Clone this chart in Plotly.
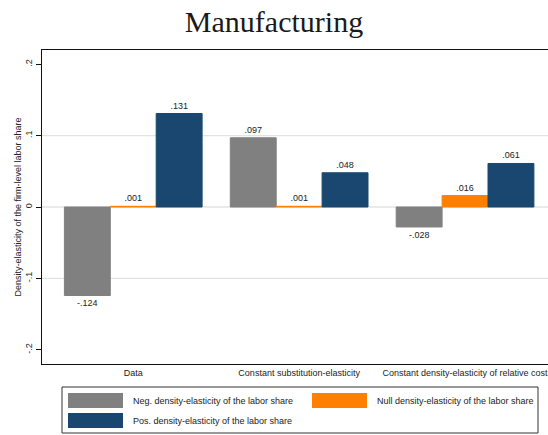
import plotly.graph_objects as go

categories = ["Data", "Constant substitution-elasticity", "Constant density-elasticity of relative cost"]
series_names = ["Neg. density-elasticity of the labor share",
                "Null density-elasticity of the labor share",
                "Pos. density-elasticity of the labor share"]
neg_vals = [-0.124, 0.097, -0.028]
null_vals = [0.001, 0.001, 0.016]
pos_vals = [0.131, 0.048, 0.061]
colors = ["#808080", "#ff8000", "#1a476f"]
ytick_vals = [-0.2, -0.1, 0, 0.1, 0.2]
ytick_text = ["-.2", "-.1", "0", ".1", ".2"]
grid_vals = [-0.1, 0, 0.1]

W, H = 548, 435
L, R, T, B = 42, 0, 50, 71
PW = W - L - R
PH = H - T - B


def fmt(v):
    s = f"{v:.3f}"
    return s.replace("0.", ".", 1)


def px(x):
    return (x - L) / PW


def py(y):
    return (H - B - y) / PH


fig = go.Figure()
xs = list(range(len(categories)))
for name, vals, col in zip(series_names, [neg_vals, null_vals, pos_vals], colors):
    fig.add_trace(go.Bar(
        x=xs, y=vals, name=name,
        marker=dict(color=col, line=dict(color=col, width=1)),
        text=[fmt(v) for v in vals], textposition="outside",
        textfont=dict(family="Liberation Sans, Arial", size=9, color="#222222"),
        cliponaxis=False, showlegend=False,
    ))

shapes = []
for g in grid_vals:
    shapes.append(dict(type="line", xref="paper", yref="y", x0=0, x1=1, y0=g, y1=g,
                       line=dict(color="#e3e3e3", width=1.3), layer="below"))

# manual legend
shapes.append(dict(type="rect", xref="paper", yref="paper",
                   x0=px(62), x1=px(538), y0=py(387), y1=py(433),
                   line=dict(color="#333333", width=1), fillcolor="white"))
legend_pos = [(68, 393), (312, 393), (68, 413)]
annotations = []
for (lx, ly), name, col in zip(legend_pos, series_names, colors):
    shapes.append(dict(type="rect", xref="paper", yref="paper",
                       x0=px(lx), x1=px(lx + 55), y0=py(ly), y1=py(ly + 15),
                       line=dict(width=0), fillcolor=col))
    annotations.append(dict(xref="paper", yref="paper", x=px(lx + 63), y=py(ly + 7.5),
                            text=name, showarrow=False, xanchor="left", yanchor="middle",
                            font=dict(family="Liberation Sans, Arial", size=9, color="#222222")))

fig.update_layout(
    width=W, height=H,
    margin=dict(l=L, r=R, t=T, b=B, pad=0),
    plot_bgcolor="white", paper_bgcolor="white",
    barmode="group", bargap=0.17, bargroupgap=0,
    title=dict(text="Manufacturing", x=0.5, xanchor="center", y=1 - 21 / H, yanchor="middle",
               yref="container",
               font=dict(family="Liberation Serif, DejaVu Serif, serif", size=30, color="#1a1a1a")),
    xaxis=dict(range=[-0.55, 2.5], tickvals=xs, ticktext=categories, ticks="",
               ticklabeloverflow="allow",
               showgrid=False, zeroline=False, showline=True, mirror=True,
               linecolor="#111111", linewidth=1,
               tickfont=dict(family="Liberation Sans, Arial", size=9, color="#222222")),
    yaxis=dict(range=[-0.22, 0.22], tickvals=ytick_vals, ticktext=ytick_text, tickangle=-90,
               ticks="outside", ticklen=5, tickcolor="#111111", showgrid=False, zeroline=False,
               showline=True, linecolor="#111111", linewidth=1,
               tickfont=dict(family="Liberation Sans, Arial", size=9, color="#222222"),
               title=dict(text="Density-elasticity of the firm-level labor share", standoff=1,
                          font=dict(family="Liberation Sans, Arial", size=9, color="#222222"))),
    shapes=shapes, annotations=annotations,
)

fig.write_html("out.html")
